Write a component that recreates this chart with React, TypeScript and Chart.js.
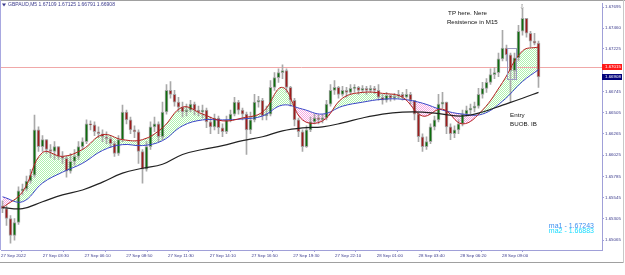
import React, { useEffect, useRef } from "react";
import { Chart, registerables } from "chart.js";
Chart.register(...registerables);

const headerText = "GBPAUD,M5 1.67109 1.67125 1.66791 1.66908";
const firstOpen = 1.65454;
const closes = [
  1.65421,1.65310,1.65120,1.65265,1.65621,1.65644,1.65733,1.65799,1.66311,1.66122,
  1.66200,1.66089,1.66066,1.66122,1.66011,1.65989,1.65844,1.65955,1.66011,1.66122,
  1.66178,1.66378,1.66367,1.66289,1.66267,1.66233,1.66211,1.66156,1.66044,1.66200,
  1.66512,1.66423,1.66311,1.66289,1.66066,1.65866,1.66122,1.66345,1.66378,1.66233,
  1.66512,1.66757,1.66712,1.66623,1.66567,1.66512,1.66534,1.66601,1.66534,1.66512,
  1.66534,1.66400,1.66345,1.66445,1.66334,1.66289,1.66423,1.66489,1.66623,1.66534,
  1.66489,1.66311,1.66423,1.66623,1.66645,1.66467,1.66489,1.66790,1.66901,1.66957,
  1.66979,1.66790,1.66645,1.66423,1.66289,1.66122,1.66311,1.66400,1.66445,1.66423,
  1.66445,1.66601,1.66757,1.66790,1.66712,1.66757,1.66734,1.66779,1.66790,1.66757,
  1.66779,1.66757,1.66779,1.66757,1.66679,1.66645,1.66701,1.66668,1.66690,1.66712,
  1.66679,1.66712,1.66645,1.66489,1.66233,1.66122,1.66178,1.66345,1.66423,1.66601,
  1.66623,1.66345,1.66267,1.66311,1.66378,1.66489,1.66534,1.66556,1.66578,1.66712,
  1.66779,1.66846,1.66935,1.66957,1.67113,1.67235,1.67157,1.66979,1.67124,1.67424,
  1.67569,1.67402,1.67313,1.67291,1.66908,
];
const highs = [
  1.65510,1.65454,1.65343,1.65310,1.65666,1.65699,1.65788,1.65866,1.66478,1.66345,
  1.66245,1.66200,1.66144,1.66178,1.66122,1.66066,1.66011,1.66044,1.66089,1.66178,
  1.66222,1.66423,1.66412,1.66400,1.66345,1.66311,1.66289,1.66233,1.66178,1.66245,
  1.66590,1.66534,1.66456,1.66356,1.66311,1.66089,1.66178,1.66400,1.66456,1.66400,
  1.66623,1.66823,1.66857,1.66757,1.66679,1.66623,1.66601,1.66645,1.66623,1.66578,
  1.66590,1.66556,1.66456,1.66489,1.66467,1.66378,1.66467,1.66534,1.66679,1.66645,
  1.66556,1.66512,1.66512,1.66712,1.66690,1.66668,1.66578,1.66868,1.66957,1.67001,
  1.67046,1.67001,1.66801,1.66668,1.66445,1.66311,1.66356,1.66456,1.66489,1.66478,
  1.66489,1.66645,1.66823,1.66868,1.66801,1.66801,1.66790,1.66823,1.66823,1.66801,
  1.66812,1.66801,1.66812,1.66801,1.66823,1.66712,1.66734,1.66712,1.66723,1.66757,
  1.66734,1.66768,1.66734,1.66645,1.66512,1.66267,1.66233,1.66378,1.66467,1.66712,
  1.66734,1.66623,1.66378,1.66356,1.66423,1.66534,1.66578,1.66601,1.66623,1.66779,
  1.66846,1.66890,1.67001,1.67013,1.67179,1.67435,1.67269,1.67179,1.67179,1.67491,
  1.67680,1.67569,1.67424,1.67402,1.67313,
];
const lows = [
  1.65376,1.65232,1.65031,1.65065,1.65243,1.65577,1.65621,1.65710,1.65777,1.66066,
  1.66066,1.66044,1.66000,1.65977,1.65977,1.65933,1.65777,1.65822,1.65911,1.65977,
  1.66089,1.66156,1.66311,1.66245,1.66222,1.66178,1.66156,1.66111,1.66011,1.66022,
  1.66178,1.66378,1.66267,1.66222,1.65933,1.65710,1.65844,1.66089,1.66289,1.66178,
  1.66200,1.66489,1.66668,1.66578,1.66512,1.66456,1.66467,1.66512,1.66478,1.66467,
  1.66445,1.66334,1.66267,1.66311,1.66267,1.66233,1.66267,1.66400,1.66467,1.66489,
  1.66423,1.66033,1.66267,1.66400,1.66567,1.66423,1.66423,1.66467,1.66757,1.66846,
  1.66890,1.66734,1.66578,1.66356,1.66233,1.66066,1.66111,1.66289,1.66378,1.66378,
  1.66389,1.66423,1.66578,1.66712,1.66668,1.66690,1.66679,1.66712,1.66734,1.66712,
  1.66734,1.66712,1.66734,1.66723,1.66645,1.66601,1.66623,1.66634,1.66645,1.66668,
  1.66645,1.66668,1.66601,1.66423,1.66178,1.66066,1.66089,1.66156,1.66311,1.66400,
  1.66556,1.66267,1.66200,1.66222,1.66267,1.66356,1.66467,1.66489,1.66512,1.66556,
  1.66668,1.66734,1.66823,1.66890,1.66912,1.67090,1.67090,1.66623,1.66890,1.67090,
  1.67380,1.67358,1.67246,1.67269,1.66790,
];

const maIdx = [0,5,10,15,20,25,30,35,40,45,50,55,60,65,70,75,80,85,90,95,100,105,110,115,120,125,130,134];
const maRed = [1.65432,1.65610,1.66055,1.66011,1.66089,1.66256,1.66200,1.66200,1.66334,1.66567,1.66489,1.66412,1.66445,1.66512,1.66790,1.66423,1.66412,1.66668,1.66734,1.66723,1.66679,1.66467,1.66545,1.66378,1.66534,1.66846,1.67202,1.67246];
const maBlue = [1.65555,1.65499,1.65710,1.65833,1.65933,1.66078,1.66144,1.66133,1.66189,1.66356,1.66423,1.66423,1.66434,1.66467,1.66590,1.66545,1.66489,1.66578,1.66623,1.66656,1.66656,1.66612,1.66534,1.66489,1.66489,1.66634,1.66857,1.66990];
const maBlack = [1.65432,1.65421,1.65499,1.65577,1.65632,1.65721,1.65822,1.65877,1.65922,1.66033,1.66089,1.66133,1.66189,1.66233,1.66300,1.66334,1.66345,1.66389,1.66445,1.66489,1.66512,1.66512,1.66489,1.66467,1.66512,1.66590,1.66668,1.66734];

const timeLabels = ["27 Sep 2022","27 Sep 03:30","27 Sep 06:10","27 Sep 08:50","27 Sep 11:30","27 Sep 14:10","27 Sep 16:50","27 Sep 19:30","27 Sep 22:10","28 Sep 01:00","28 Sep 03:40","28 Sep 06:20","28 Sep 09:00"];
const yTickValues = [1.65065,1.65305,1.65545,1.65785,1.66025,1.66265,1.66505,1.66745,1.67225,1.67460,1.67695];
const hLineLevel = 1.67015;
const bidLevel = 1.66908;
const maLegend = [
  { text: "ma1 - 1.67243", color: "#3d8ff0" },
  { text: "ma2 - 1.66883", color: "#19dcff" },
];
const notes = [
  { text: "TP here. Nere", idx: 111.4, price: 1.67625 },
  { text: "Resistence in M15", idx: 111.1, price: 1.67525 },
  { text: "Entry", idx: 126.9, price: 1.66478 },
  { text: "BUOB. IB", idx: 126.9, price: 1.66378 },
];
const boxRange = { idx0: 126.1, idx1: 128.4, p0: 1.67235, p1: 1.6689 };
const arrowMark = { idx: 129.9, price: 1.67714 };

const FONT = "'Liberation Sans', Arial, sans-serif";

export default function App() {
  const ref = useRef<HTMLCanvasElement>(null);
  useEffect(() => {
    document.body.style.margin = "0";
    const canvas = ref.current!;
    const ctx0 = canvas.getContext("2d")!;
    const mkPat = (color: string) => {
      const c = document.createElement("canvas");
      c.width = 2; c.height = 2;
      const g = c.getContext("2d")!;
      g.fillStyle = color;
      g.fillRect(0, 0, 1, 1);
      g.fillRect(1, 1, 1, 1);
      return ctx0.createPattern(c, "repeat")!;
    };
    const greenPat = mkPat("#aef2ae");
    const pinkPat = mkPat("#f5a8e2");
    const opens = closes.map((_, i) => (i === 0 ? firstOpen : closes[i - 1]));

    const extras = {
      id: "extras",
      beforeDatasetsDraw(chart: any) {
        const { ctx, chartArea: a, scales } = chart;
        const y = Math.round(scales.y.getPixelForValue(hLineLevel)) + 0.5;
        ctx.save();
        ctx.strokeStyle = "#f0a8a8";
        ctx.lineWidth = 1;
        ctx.beginPath(); ctx.moveTo(a.left, y); ctx.lineTo(a.right, y); ctx.stroke();
        ctx.restore();
      },
      afterDraw(chart: any) {
        const { ctx, chartArea: a, scales, width } = chart;
        const xs = scales.x, ys = scales.y;
        ctx.save();
        ctx.fillStyle = "#a0a0a0";
        ctx.fillRect(0, 0, width, 1);
        ctx.fillRect(0, 262, 623, 1);
        ctx.fillStyle = "#c8c8c8";
        ctx.fillRect(623, 0, 1, 263);
        ctx.fillStyle = "#a8a8e0";
        ctx.fillRect(0, 0, 1, a.bottom);
        const box = (v: number, bg: string) => {
          const py = ys.getPixelForValue(v);
          ctx.fillStyle = bg;
          ctx.fillRect(a.right, Math.round(py) - 3, 20, 6);
          ctx.fillStyle = "#ffffff";
          ctx.font = `4.4px ${FONT}`;
          ctx.textBaseline = "middle";
          ctx.textAlign = "left";
          ctx.fillText(v.toFixed(5), a.right + 3, Math.round(py) + 0.2);
        };
        box(hLineLevel, "#ff1a1a");
        box(bidLevel, "#00007a");
        ctx.fillStyle = "#3a3a8c";
        ctx.beginPath(); ctx.moveTo(2, 3.5); ctx.lineTo(6, 3.5); ctx.lineTo(4, 6.5); ctx.closePath(); ctx.fill();
        ctx.font = `5px ${FONT}`;
        ctx.textBaseline = "middle";
        ctx.textAlign = "left";
        ctx.fillText(headerText, 8, 5);
        ctx.fillStyle = "#111111";
        ctx.font = `6.2px ${FONT}`;
        notes.forEach((n) => ctx.fillText(n.text, xs.getPixelForValue(n.idx), ys.getPixelForValue(n.price)));
        ctx.strokeStyle = "#9a9ac0";
        ctx.lineWidth = 1;
        const bx0 = Math.round(xs.getPixelForValue(boxRange.idx0)) + 0.5;
        const bx1 = Math.round(xs.getPixelForValue(boxRange.idx1)) + 0.5;
        const by0 = Math.round(ys.getPixelForValue(boxRange.p0)) + 0.5;
        const by1 = Math.round(ys.getPixelForValue(boxRange.p1)) + 0.5;
        ctx.strokeRect(bx0, by0, bx1 - bx0, by1 - by0);
        ctx.fillStyle = "#909090";
        ctx.font = `7px 'DejaVu Sans', sans-serif`;
        ctx.textAlign = "center";
        ctx.fillText("\u21e9", xs.getPixelForValue(arrowMark.idx), ys.getPixelForValue(arrowMark.price) + 2);
        ctx.textAlign = "right";
        ctx.font = `7px ${FONT}`;
        maLegend.forEach((m, k) => {
          ctx.fillStyle = m.color;
          ctx.fillText(m.text, 594, 226 + k * 5.5);
        });
        ctx.restore();
      },
    };

    const chart = new Chart(canvas, {
      type: "bar",
      data: {
        datasets: [
          {
            type: "bar",
            data: closes.map((_, i) => ({ x: i, y: [lows[i], highs[i]] })) as any,
            backgroundColor: "#a9a9a9",
            barThickness: 1,
            grouped: false,
            order: 3,
          } as any,
          {
            type: "bar",
            data: closes.map((c, i) => ({ x: i, y: [opens[i], c] })) as any,
            backgroundColor: closes.map((c, i) => (c >= opens[i] ? "#0d6e0d" : "#9e1c1c")),
            borderColor: "#a4a4a4",
            borderWidth: 1,
            borderSkipped: false,
            barThickness: 3,
            minBarLength: 1,
            grouped: false,
            order: 2,
          } as any,
          {
            type: "line",
            data: maIdx.map((x, k) => ({ x, y: maRed[k] })),
            borderColor: "#b41e1e",
            borderWidth: 1,
            pointRadius: 0,
            tension: 0.4,
            fill: { target: "+1", above: greenPat, below: pinkPat },
            order: 1,
          } as any,
          {
            type: "line",
            data: maIdx.map((x, k) => ({ x, y: maBlue[k] })),
            borderColor: "#3a46c8",
            borderWidth: 1,
            pointRadius: 0,
            tension: 0.4,
            fill: false,
            order: 1,
          } as any,
          {
            type: "line",
            data: maIdx.map((x, k) => ({ x, y: maBlack[k] })),
            borderColor: "#222222",
            borderWidth: 1.2,
            pointRadius: 0,
            tension: 0.4,
            fill: false,
            order: 0,
          } as any,
        ],
      },
      options: {
        animation: false,
        responsive: false,
        devicePixelRatio: 1,
        events: [],
        layout: { padding: { left: 1, top: 0, right: 0, bottom: 0 } },
        plugins: {
          legend: { display: false },
          tooltip: { enabled: false },
          filler: { drawTime: "beforeDatasetsDraw" } as any,
        },
        scales: {
          x: {
            type: "linear",
            offset: false,
            min: -0.375,
            max: 149.875,
            afterBuildTicks: (s: any) => {
              s.ticks = timeLabels.map((_, k) => ({ value: k * 10.4375 - 0.375 }));
            },
            afterFit: (s: any) => { s.height = 25; },
            border: { display: true, color: "#a0a0d8", width: 1 },
            grid: { drawOnChartArea: false, drawTicks: true, tickLength: 2, color: "#a0a0d8" },
            ticks: {
              autoSkip: false,
              maxRotation: 0,
              minRotation: 0,
              align: "start",
              padding: 1,
              color: "#3a3a8c",
              font: { family: FONT, size: 4.4 },
              callback: (_v: any, i: number) => timeLabels[i],
            },
          } as any,
          y: {
            type: "linear",
            position: "right",
            min: 1.64954,
            max: 1.67736,
            afterBuildTicks: (s: any) => {
              s.ticks = yTickValues.map((v) => ({ value: v }));
            },
            afterFit: (s: any) => { s.width = 23; },
            border: { display: true, color: "#a0a0d8", width: 1 },
            grid: { drawOnChartArea: false, drawTicks: true, tickLength: 2, color: "#a0a0d8" },
            ticks: {
              padding: 1,
              color: "#3a3a8c",
              font: { family: FONT, size: 4.4 },
              callback: (v: any) => Number(v).toFixed(5),
            },
          } as any,
        },
      },
      plugins: [extras],
    });
    return () => chart.destroy();
  }, []);
  return (
    <div style={{ width: 625, height: 275, background: "#ffffff" }}>
      <canvas ref={ref} width={625} height={275} style={{ display: "block", width: 625, height: 275 }} />
    </div>
  );
}
